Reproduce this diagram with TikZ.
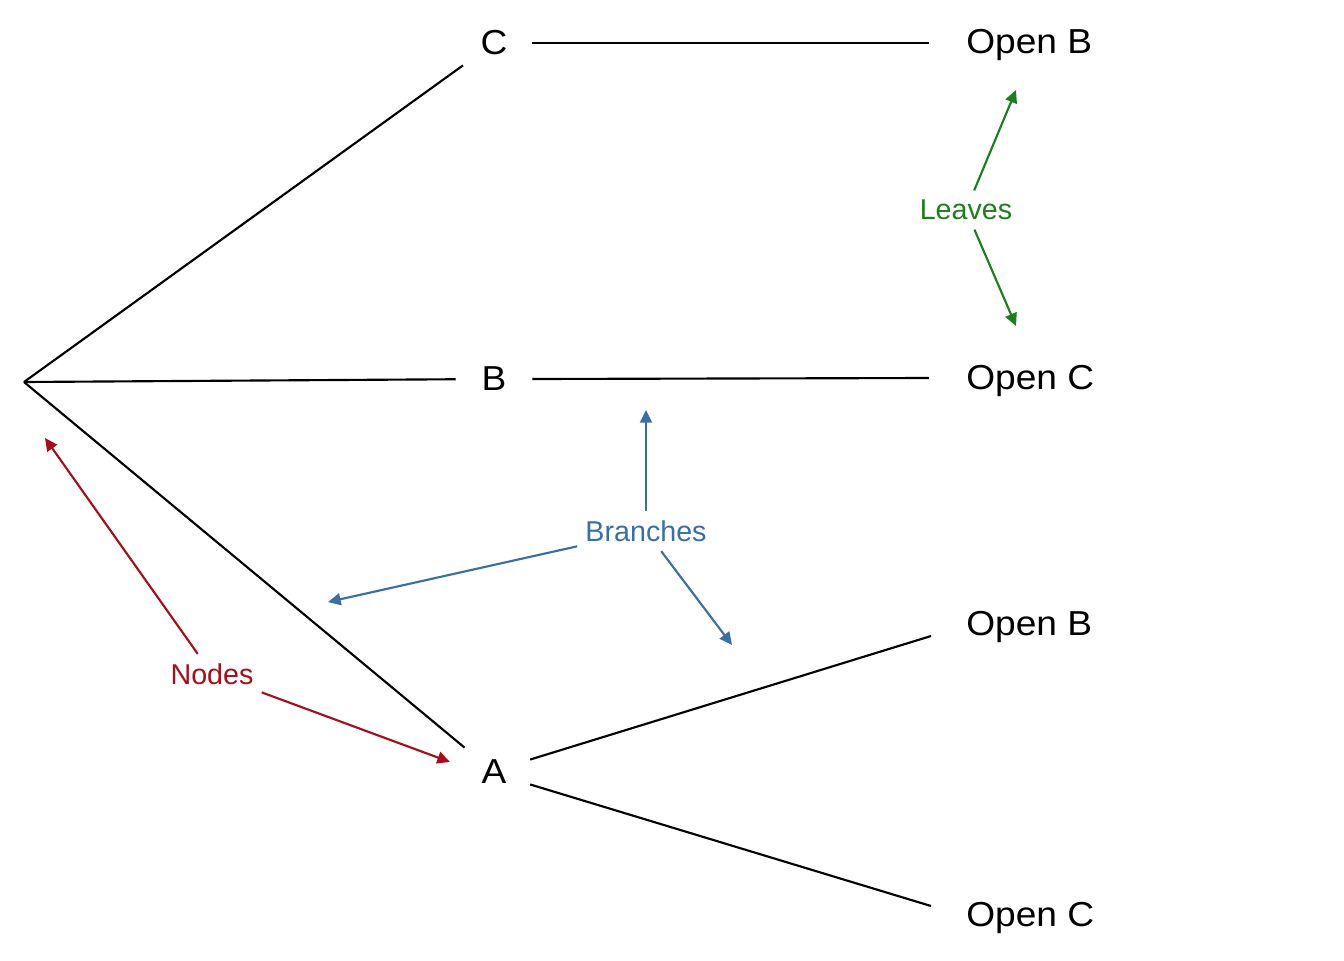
\documentclass[tikz,border=0pt]{standalone}
\usepackage{fontspec}
\setmainfont{Liberation Sans}
\newfontfamily\widefont[FakeStretch=1.07]{Liberation Sans}
\usetikzlibrary{arrows.meta,calc}
\definecolor{nodered}{RGB}{165,15,25}
\definecolor{branchblue}{RGB}{58,110,165}
\definecolor{leafgreen}{RGB}{30,125,30}
\begin{document}
\begin{tikzpicture}[x=0.75pt,y=-0.75pt,
  treenode/.style={circle,minimum size=57pt,inner sep=0pt,font=\widefont\fontsize{26}{30}\selectfont},
  leafnode/.style={anchor=base west,inner sep=0pt,font=\widefont\fontsize{26}{30}\selectfont},
  edge/.style={line width=1.6pt,black},
  annot/.style={inner xsep=6pt,inner ysep=7pt,font=\fontsize{21.5}{25}\selectfont},
  pointer/.style={line width=1.6pt,-{Triangle[length=9.5pt,width=9pt]}}
]
\useasboundingbox (0,0) rectangle (1344,960);

% tree
\coordinate (root) at (24,382);
\node[treenode] (C) at (494,43) {C};
\node[treenode] (B) at (494,379) {B};
\node[treenode] (A) at (494,772) {A};

\node[leafnode] (L1) at (966,53) {Open B};
\node[leafnode] (L2) at (966,389) {Open C};
\node[leafnode] (L3) at (966,635) {Open B};
\node[leafnode] (L4) at (966,926) {Open C};

\draw[edge] (root) -- (C);
\draw[edge] (root) -- (B);
\draw[edge] (root) -- (A);
\draw[edge] (C.east) -- ($(L1.base west)+(-37,-10)$);
\draw[edge] (B.east) -- ($(L2.base west)+(-37,-11)$);
\draw[edge] (A.19) -- ($(L3.base west)+(-35,1)$);
\draw[edge] (A.-19) -- ($(L4.base west)+(-35,-20)$);

% annotations
\node[annot,text=nodered] (nodes) at (212,674) {Nodes};
\coordinate (nT1) at (45,438);
\coordinate (nT2) at (450,762);
\draw[pointer,nodered] (nodes) -- (nT1);
\draw[pointer,nodered] (nodes) -- (nT2);

\node[annot,text=branchblue] (branches) at (646,531) {Branches};
\coordinate (bT1) at (646,410);
\coordinate (bT2) at (328,602);
\coordinate (bT3) at (732,645);
\draw[pointer,branchblue] (branches) -- (bT1);
\draw[pointer,branchblue] (branches) -- (bT2);
\draw[pointer,branchblue] (branches) -- (bT3);

\node[annot,text=leafgreen] (leaves) at (966,210) {Leaves};
\coordinate (lT1) at (1016,90);
\coordinate (lT2) at (1016,326);
\draw[pointer,leafgreen] (leaves) -- (lT1);
\draw[pointer,leafgreen] (leaves) -- (lT2);
\end{tikzpicture}
\end{document}
